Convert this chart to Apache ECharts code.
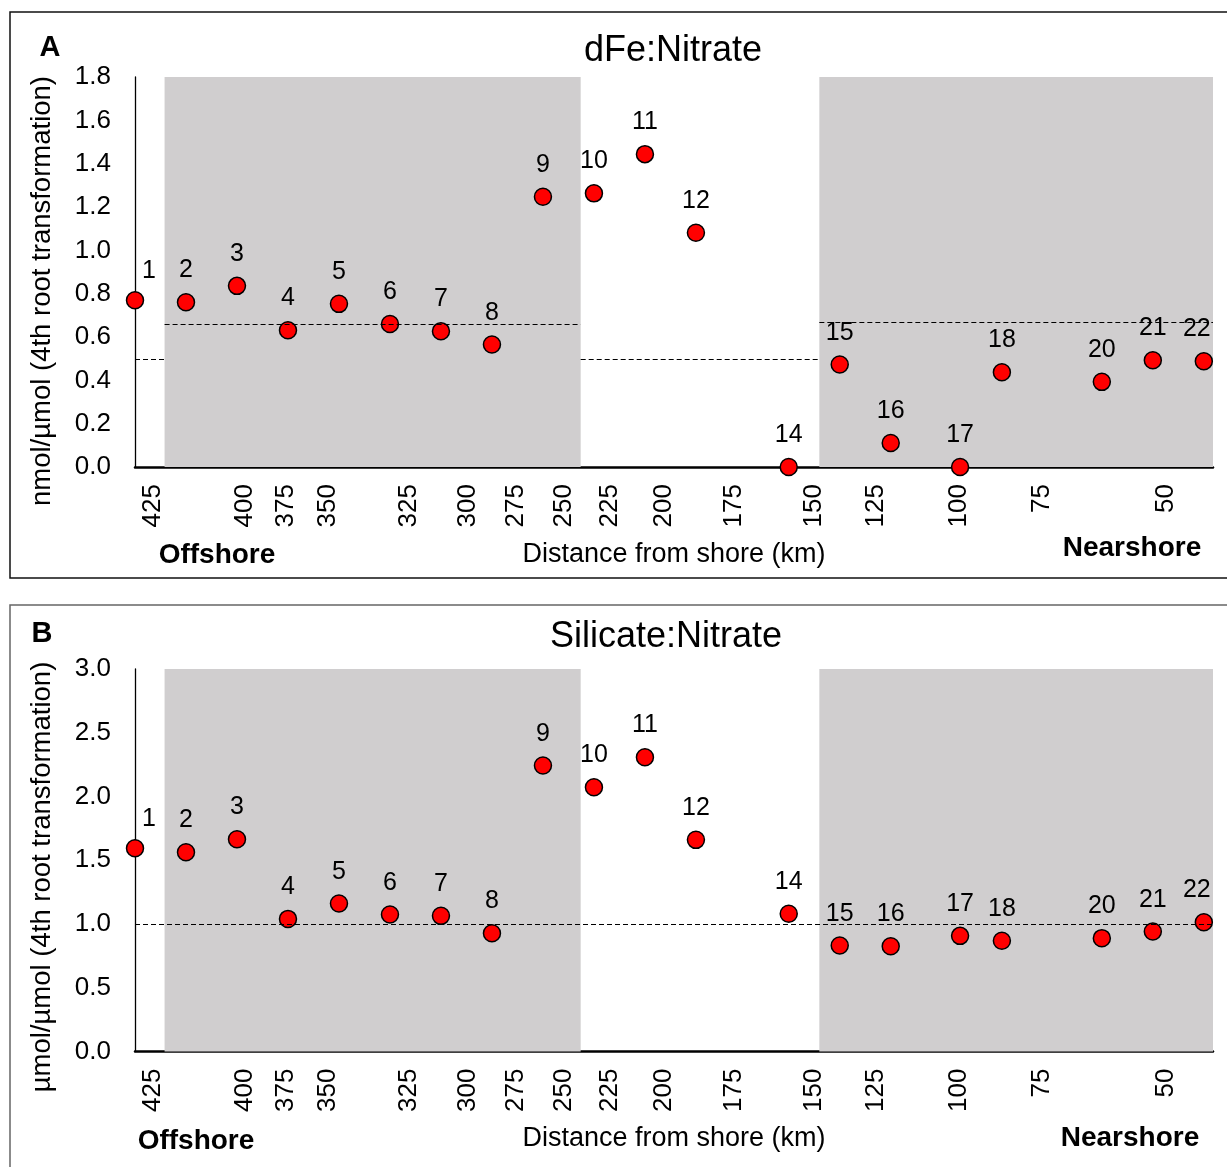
<!DOCTYPE html>
<html>
<head>
<meta charset="utf-8">
<title>dFe:Nitrate and Silicate:Nitrate</title>
<script src="https://cdn.jsdelivr.net/npm/echarts@6/dist/echarts.min.js"></script>
<style>
  html, body { margin: 0; padding: 0; background: #fff; }
  #chart { width: 1227px; height: 1167px; }
</style>
</head>
<body>
<div id="chart"></div>
<script>
// stations along the transect (13 and 19 missing)
var stations = [1, 2, 3, 4, 5, 6, 7, 8, 9, 10, 11, 12, 14, 15, 16, 17, 18, 20, 21, 22];
// where each station sits on the plotted transect (1 unit = spacing of stations 1-12)
var stationPos = [0, 1, 2, 3, 4, 5, 6, 7, 8, 9, 10, 11, 12.82, 13.82, 14.82, 16.18, 17.0, 18.96, 19.96, 20.96];
var dFeNitrate = [0.77, 0.76, 0.836, 0.631, 0.753, 0.66, 0.627, 0.565, 1.247, 1.263, 1.444, 1.081, 0, 0.473, 0.111, 0, 0.437, 0.393, 0.493, 0.488];
var silNitrate = [1.594, 1.563, 1.665, 1.04, 1.161, 1.075, 1.064, 0.928, 2.243, 2.073, 2.308, 1.66, 1.08, 0.831, 0.826, 0.907, 0.868, 0.889, 0.941, 1.014];

// distance from shore tick labels and their place on the transect
var distLabels = ["425", "400", "375", "350", "325", "300", "275", "250", "225", "200", "175", "150", "125", "100", "75", "50"];
var distPos = [0.35, 2.16, 2.95, 3.78, 5.37, 6.53, 7.47, 8.40, 9.31, 10.37, 11.75, 13.31, 14.53, 16.16, 17.78, 20.22];

// shaded zones
var zoneII = [0.58, 8.74];
var zoneI = [13.42, 21.14];
// dashed mean lines
var dFeMeanOut = 0.497;
var dFeMeanII = 0.66;
var dFeMeanI = 0.668;
var silMean = 1.0;

var FONT = "Liberation Sans, Arial, sans-serif";
var xMax = 21.14;

function xAxisOpt(gridIndex) {
  return {
    type: "value",
    gridIndex: gridIndex,
    min: 0,
    max: xMax,
    name: "Distance from shore (km)",
    nameLocation: "middle",
    nameGap: 74,
    nameTextStyle: { fontSize: 27, color: "#000" },
    axisLine: { show: true, lineStyle: { color: "#000", width: 2.5 } },
    axisTick: { show: false },
    splitLine: { show: false },
    axisLabel: {
      customValues: distPos,
      rotate: 90,
      margin: 17,
      fontSize: 26,
      color: "#000",
      formatter: function (v) {
        var best = 0;
        for (var i = 1; i < distPos.length; i++) {
          if (Math.abs(distPos[i] - v) < Math.abs(distPos[best] - v)) best = i;
        }
        return distLabels[best];
      }
    }
  };
}

function yAxisOpt(gridIndex, max, interval) {
  return {
    type: "value",
    gridIndex: gridIndex,
    min: 0,
    max: max,
    interval: interval,
    axisLine: { show: true, lineStyle: { color: "#000", width: 1.3 } },
    axisTick: { show: false },
    splitLine: { show: false },
    axisLabel: {
      fontSize: 26,
      color: "#000",
      margin: 24,
      formatter: function (v) { return v.toFixed(1); }
    }
  };
}

function pointData(values) {
  return stationPos.map(function (x, i) {
    var item = { value: [x, values[i]] };
    if (i === 0) item.label = { offset: [14, 3] };
    if (i === stationPos.length - 1) item.label = { offset: [-7, 0] };
    return item;
  });
}

function seg(x1, x2, y) {
  return [{ coord: [x1, y] }, { coord: [x2, y] }];
}

function panelSeries(idx, values, lines) {
  return [
    {
      type: "line",
      xAxisIndex: idx,
      yAxisIndex: idx,
      data: [],
      z: 1,
      silent: true,
      markArea: {
        silent: true,
        itemStyle: { color: "#d0cecf" },
        data: [
          [{ xAxis: zoneII[0] }, { xAxis: zoneII[1] }],
          [{ xAxis: zoneI[0] }, { xAxis: zoneI[1] }]
        ]
      }
    },
    {
      type: "line",
      xAxisIndex: idx,
      yAxisIndex: idx,
      data: [],
      z: 2,
      silent: true,
      markLine: {
        silent: true,
        symbol: ["none", "none"],
        label: { show: false },
        lineStyle: { color: "#000", type: [5, 3], width: 1.2 },
        data: lines
      }
    },
    {
      type: "scatter",
      xAxisIndex: idx,
      yAxisIndex: idx,
      z: 3,
      clip: false,
      symbolSize: 17,
      itemStyle: { color: "#ff0000", borderColor: "#000", borderWidth: 1.5, opacity: 1 },
      label: {
        show: true,
        position: "top",
        distance: 10,
        fontSize: 25,
        color: "#000",
        formatter: function (p) { return String(stations[p.dataIndex]); }
      },
      data: pointData(values)
    }
  ];
}

function txt(x, y, text, size, bold, extra) {
  var el = {
    type: "text",
    x: x,
    y: y,
    silent: true,
    style: {
      text: text,
      fill: "#000",
      font: (bold ? "bold " : "") + size + "px " + FONT,
      align: "center",
      verticalAlign: "middle"
    }
  };
  if (extra) for (var k in extra) el[k] = extra[k];
  return el;
}

var chart = echarts.init(document.getElementById("chart"));

chart.setOption({
  backgroundColor: "#fff",
  animation: false,
  textStyle: { fontFamily: FONT },
  grid: [
    { left: 135, top: 77, width: 1078, height: 390 },
    { left: 135, top: 669, width: 1078, height: 382.5 }
  ],
  xAxis: [xAxisOpt(0), xAxisOpt(1)],
  yAxis: [yAxisOpt(0, 1.8, 0.2), yAxisOpt(1, 3, 0.5)],
  series: []
    .concat(panelSeries(0, dFeNitrate, [
      seg(0, zoneII[0], dFeMeanOut),
      seg(zoneII[0], zoneII[1], dFeMeanII),
      seg(zoneII[1], zoneI[0], dFeMeanOut),
      seg(zoneI[0], zoneI[1], dFeMeanI)
    ]))
    .concat(panelSeries(1, silNitrate, [
      seg(0, xMax, silMean)
    ])),
  graphic: [
    { type: "rect", silent: true, shape: { x: 10, y: 12, width: 1240, height: 566 },
      style: { fill: "none", stroke: "#111", lineWidth: 1.5 } },
    { type: "rect", silent: true, shape: { x: 10, y: 605, width: 1240, height: 580 },
      style: { fill: "none", stroke: "#666", lineWidth: 1.5 } },
    txt(50, 48, "A", 29, true),
    txt(42, 634, "B", 29, true),
    txt(673, 51, "dFe:Nitrate", 36, false),
    txt(666, 637, "Silicate:Nitrate", 36, false),
    txt(42, 291, "nmol/\u00b5mol (4th root transformation)", 27.5, false, { rotation: Math.PI / 2 }),
    txt(42, 877, "\u00b5mol/\u00b5mol (4th root transformation)", 27.5, false, { rotation: Math.PI / 2 }),
    txt(217, 555, "Offshore", 28, true),
    txt(1132, 548, "Nearshore", 28, true),
    txt(196, 1141, "Offshore", 28, true),
    txt(1130, 1138, "Nearshore", 28, true),
    txt(369, 161, "II", 56, true),
    txt(1028, 159, "I", 56, true),
    txt(369, 743, "II", 56, true),
    txt(1031, 738, "I", 56, true)
  ]
});
</script>
</body>
</html>
